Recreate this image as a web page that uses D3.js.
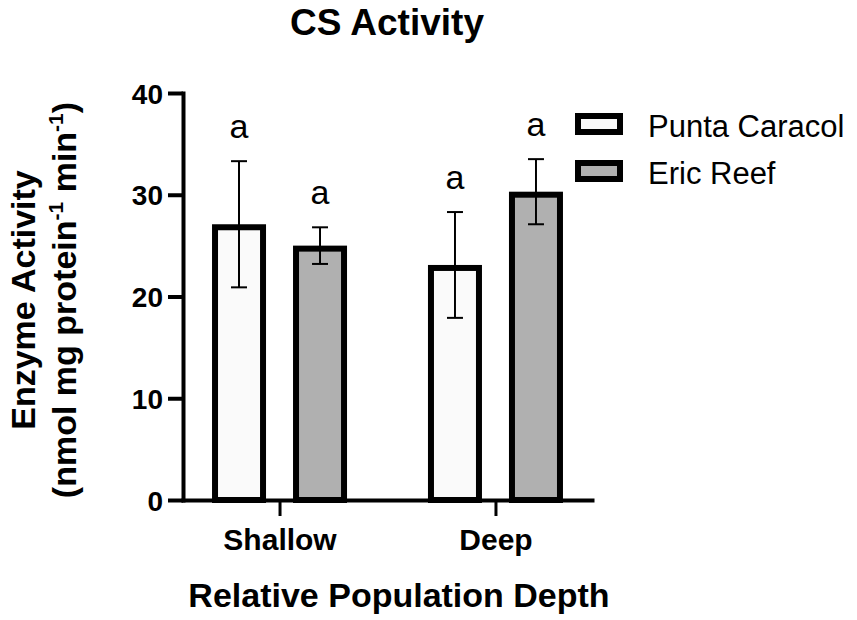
<!DOCTYPE html>
<html>
<head>
<meta charset="utf-8">
<script src="https://cdn.jsdelivr.net/npm/d3@7"></script>
<style>
  body { margin: 0; background: #fff; }
  svg text { font-family: Arial, "Liberation Sans", Helvetica, sans-serif; fill: #000; }
</style>
</head>
<body>
<div class="chart"></div>
<script>
const categories = ['Shallow', 'Deep'];
const series = ['Punta Caracol', 'Eric Reef'];
const seriesFill = ['#fafafa', '#b0b0b0'];
const puntaMean = [27.1, 23.1];
const puntaErr = [6.2, 5.2];
const ericMean = [25.0, 30.3];
const ericErr = [1.8, 3.2];
const letters = [['a', 'a'], ['a', 'a']];
const yTicks = [0, 10, 20, 30, 40];

const w = 857, h = 620, sw = 6;

const rows = [];
categories.forEach((c, i) => {
    rows.push({cat: c, s: series[0], mean: puntaMean[i], err: puntaErr[i], label: letters[i][0]});
    rows.push({cat: c, s: series[1], mean: ericMean[i], err: ericErr[i], label: letters[i][1]});
});

const svg = d3.select('.chart')
              .append('svg')
              .attr('width', w)
              .attr('height', h);

const xScale = d3.scalePoint()
                 .domain(categories)
                 .range([183, 592])
                 .padding(0.447);

const inner = d3.scaleBand()
                .domain(series)
                .range([-67.5, 67.5])
                .paddingInner(1/3);

const yScale = d3.scaleLinear()
                 .domain([0, 40])
                 .range([500, 93]);

const color = d3.scaleOrdinal().domain(series).range(seriesFill);

// bars (stroke kept inside the bar outline)
svg.selectAll('rect.bar')
   .data(rows)
   .enter()
   .append('rect')
   .attr('class', 'bar')
   .attr('x', d => xScale(d.cat) + inner(d.s) + sw/2)
   .attr('y', d => yScale(d.mean) + sw/2)
   .attr('width', inner.bandwidth() - sw)
   .attr('height', d => yScale(0) - yScale(d.mean) - sw/2)
   .attr('fill', d => color(d.s))
   .attr('stroke', '#000')
   .attr('stroke-width', sw);

// error bars
const cx = d => xScale(d.cat) + inner(d.s) + inner.bandwidth()/2;
const eb = svg.append('g').attr('stroke', '#000').attr('stroke-width', 2);
rows.forEach(d => {
    const x = cx(d), y1 = yScale(d.mean + d.err), y2 = yScale(d.mean - d.err);
    eb.append('line').attr('x1', x).attr('x2', x).attr('y1', y1).attr('y2', y2);
    eb.append('line').attr('x1', x - 8).attr('x2', x + 8).attr('y1', y1).attr('y2', y1);
    eb.append('line').attr('x1', x - 8).attr('x2', x + 8).attr('y1', y2).attr('y2', y2);
});

// significance letters
svg.selectAll('text.sig')
   .data(rows)
   .enter()
   .append('text')
   .attr('class', 'sig')
   .attr('x', cx)
   .attr('y', d => yScale(d.mean + d.err) - 23)
   .attr('text-anchor', 'middle')
   .style('font-size', '34px')
   .text(d => d.label);

// axes
const yAxis = d3.axisLeft(yScale).tickValues(yTicks).tickSize(15).tickSizeOuter(0).tickPadding(5);
const gy = svg.append('g').attr('transform', 'translate(183,0)').call(yAxis);
gy.select('.domain').attr('stroke-width', 4);
gy.selectAll('.tick line').attr('stroke-width', 4);
gy.selectAll('.tick text').style('font-size', '28px').style('font-weight', 'bold').attr('dy', '0.36em');

const xAxis = d3.axisBottom(xScale).tickSize(16).tickSizeOuter(0).tickPadding(13);
const gx = svg.append('g').attr('transform', 'translate(0,500)').call(xAxis);
gx.select('.domain').attr('stroke-width', 4);
gx.selectAll('.tick line').attr('stroke-width', 3);
gx.selectAll('.tick text').style('font-size', '30px').style('font-weight', 'bold');
svg.selectAll('.domain').attr('stroke-linecap', 'square');

// titles
svg.append('text')
   .attr('x', 387).attr('y', 35)
   .attr('text-anchor', 'middle')
   .style('font-size', '37px').style('font-weight', 'bold')
   .text('CS Activity');

svg.append('text')
   .attr('x', 399).attr('y', 607)
   .attr('text-anchor', 'middle')
   .style('font-size', '34px').style('font-weight', 'bold')
   .text('Relative Population Depth');

const yl = svg.append('text')
   .attr('transform', 'translate(35,300) rotate(-90)')
   .attr('text-anchor', 'middle')
   .style('font-size', '34px').style('font-weight', 'bold');
yl.append('tspan').attr('x', 0).attr('y', 0).text('Enzyme Activity');
const l2 = yl.append('tspan').attr('x', 0).attr('y', 41);
l2.append('tspan').text('(nmol mg protein');
l2.append('tspan').attr('dy', -13).style('font-size', '21px').text('-1');
l2.append('tspan').attr('dy', 13).text(' min');
l2.append('tspan').attr('dy', -13).style('font-size', '21px').text('-1');
l2.append('tspan').attr('dy', 13).text(')');

// legend
const leg = svg.selectAll('g.leg')
   .data(series)
   .enter()
   .append('g')
   .attr('class', 'leg')
   .attr('transform', (d, i) => `translate(575,${113 + i*47})`);
leg.append('rect')
   .attr('x', sw/2).attr('y', sw/2)
   .attr('width', 48 - sw).attr('height', 22 - sw)
   .attr('fill', d => color(d))
   .attr('stroke', '#000').attr('stroke-width', sw);
leg.append('text')
   .attr('x', 73).attr('y', 24)
   .style('font-size', '31px')
   .text(d => d);
</script>
</body>
</html>
